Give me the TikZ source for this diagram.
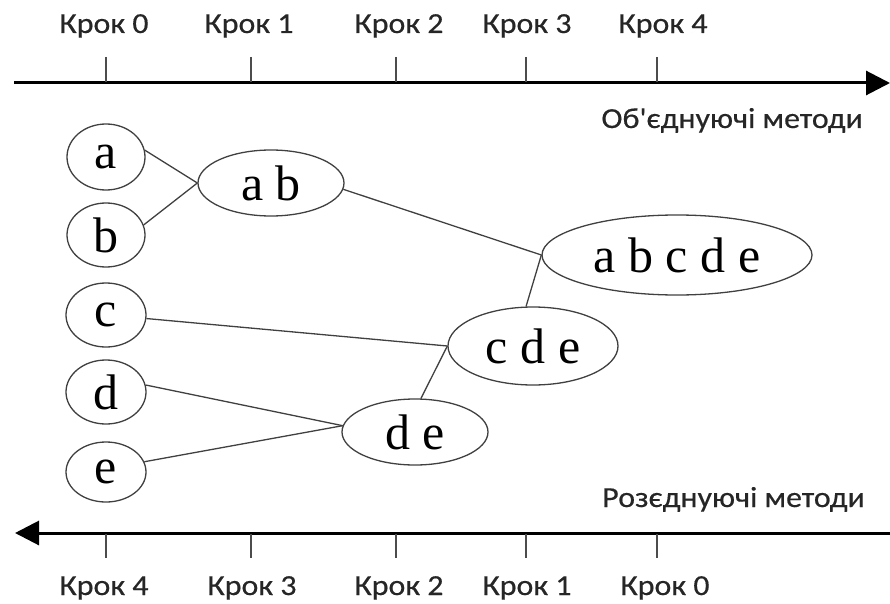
\documentclass[tikz,border=0pt]{standalone}
\usepackage{fontspec}
\setmainfont{Liberation Serif}
\newfontfamily\labelfont[FakeBold=0.4]{Carlito}
\usetikzlibrary{arrows.meta,shapes.geometric}
\newcommand\widetext[1]{\scalebox{1.1}[1]{#1}}
\begin{document}
\begin{tikzpicture}[x=1pt,y=-1pt,
  axisline/.style={line width=3pt},
  axistip/.style={-{Triangle[length=24pt,width=24pt]}},
  ticmark/.style={draw=black!70,line width=2pt},
  cluster/.style={ellipse,draw=black!75,line width=1.3pt,inner sep=0pt,
    font=\fontsize{50}{50}\selectfont},
  link/.style={draw=black!75,line width=1.3pt},
  steplabel/.style={font=\labelfont\fontsize{29}{29}\selectfont,text=black!85,anchor=base,inner sep=0pt},
  methodlabel/.style={font=\labelfont\fontsize{29}{29}\selectfont,text=black!85,anchor=base east,inner sep=0pt}
]
\useasboundingbox (0,0) rectangle (890,604);

% agglomerative time axis (top)
\coordinate (tS) at (14,83);
\coordinate (tE) at (890,83);
\draw[axisline,axistip] (tS) -- (tE);
\foreach \x/\k in {106/0,251/1,396/2,526/3,657/4}{
  \coordinate (tt\k) at (\x,57);
  \coordinate (tb\k) at (\x,82);
  \draw[ticmark] (tt\k) -- (tb\k);
}
\node[steplabel] (top0) at (104,33) {\widetext{Крок 0}};
\node[steplabel] (top1) at (249,33) {\widetext{Крок 1}};
\node[steplabel] (top2) at (399,33) {\widetext{Крок 2}};
\node[steplabel] (top3) at (527,33) {\widetext{Крок 3}};
\node[steplabel] (top4) at (663,33) {\widetext{Крок 4}};
\node[methodlabel] (join) at (863,128) {\widetext{Об'єднуючі методи}};

% divisive time axis (bottom)
\coordinate (bS) at (890,533);
\coordinate (bE) at (15,533);
\draw[axisline,axistip] (bS) -- (bE);
\foreach \x/\k in {106/4,251/3,396/2,526/1,657/0}{
  \coordinate (bt\k) at (\x,534);
  \coordinate (bb\k) at (\x,558);
  \draw[ticmark] (bt\k) -- (bb\k);
}
\node[steplabel] (bot4) at (104,595) {\widetext{Крок 4}};
\node[steplabel] (bot3) at (252,595) {\widetext{Крок 3}};
\node[steplabel] (bot2) at (399,595) {\widetext{Крок 2}};
\node[steplabel] (bot1) at (527,595) {\widetext{Крок 1}};
\node[steplabel] (bot0) at (665,595) {\widetext{Крок 0}};
\node[methodlabel] (split) at (865,507) {\widetext{Розєднуючі методи}};

% clusters
\node[cluster,minimum width=78pt,minimum height=66pt] (a) at (106,157) {a};
\node[cluster,minimum width=78pt,minimum height=64pt] (b) at (106,235) {b};
\node[cluster,minimum width=80pt,minimum height=64pt] (c) at (106,315) {c};
\node[cluster,minimum width=80pt,minimum height=64pt] (d) at (106,392) {d};
\node[cluster,minimum width=80pt,minimum height=60pt] (e) at (106,472) {\raisebox{-4pt}{e}};
\node[cluster,minimum width=146pt,minimum height=66pt] (ab) at (271,183) {a b};
\node[cluster,minimum width=270pt,minimum height=80pt] (abcde) at (677,255) {a b c d e};
\node[cluster,minimum width=170pt,minimum height=78pt] (cde) at (533,346) {c d e};
\node[cluster,minimum width=146pt,minimum height=66pt] (de) at (415,432) {d e};

% merges
\draw[link] (a.10) -- (ab.west);
\draw[link] (b.15) -- (ab.west);
\draw[link] (ab.-5) -- (abcde.west);
\draw[link] (abcde.west) -- (cde.100);
\draw[link] (c.-5) -- (cde.west);
\draw[link] (cde.west) -- (de.80);
\draw[link] (d.10) -- (de.175);
\draw[link] (e.15) -- (de.175);
\end{tikzpicture}
\end{document}
